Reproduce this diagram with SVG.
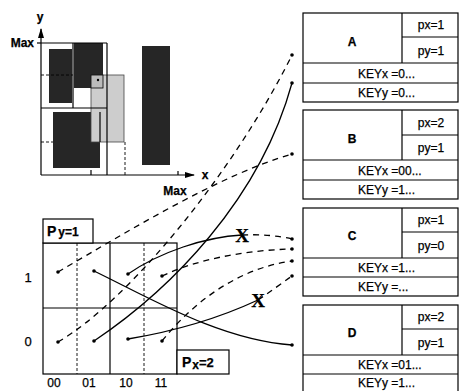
<svg xmlns="http://www.w3.org/2000/svg" width="460" height="391" viewBox="0 0 460 391">
<defs>
<marker id="ah" markerWidth="10" markerHeight="8" refX="9" refY="4" orient="auto" markerUnits="userSpaceOnUse">
<path d="M0,1 L10,4 L0,7 Z" fill="#000"/>
</marker>
</defs>
<style>
text{font-family:"Liberation Sans",Arial,sans-serif;fill:#000;stroke:#000;stroke-width:0.25}
.lbl{font-size:12px}
.big{font-size:13px}
.box{fill:#fff;stroke:#000;stroke-width:1.2}
.ln{fill:none;stroke:#000;stroke-width:1.2}
.dk{fill:#262626}
.lt{fill:#cdcdcd;stroke:#444;stroke-width:0.8}
.sol{fill:none;stroke:#000;stroke-width:1.3}
.dsh{fill:none;stroke:#000;stroke-width:1.3;stroke-dasharray:6 5}
.thin{fill:none;stroke:#000;stroke-width:0.9;stroke-dasharray:3 2}
.dot{fill:#000}
.xm{font-family:"Liberation Serif",serif;font-weight:bold;font-size:19px}
</style>

<g id="chart">
<rect class="dk" x="49" y="49" width="23" height="54"/>
<rect class="dk" x="74" y="43" width="29" height="45"/>
<rect class="dk" x="53" y="112" width="47" height="56"/>
<rect class="dk" x="142" y="46" width="28" height="119"/>
<rect class="lt" x="91" y="75" width="33" height="67"/>
<rect x="91" y="75" width="12" height="13" fill="#bbb" stroke="#000" stroke-width="0.8"/>
<circle cx="98" cy="80" r="1.2" fill="#000"/>
<line class="ln" x1="41" y1="43" x2="107" y2="43"/>
<line class="ln" x1="107" y1="43" x2="107" y2="175"/>
<line class="ln" x1="41" y1="108" x2="107" y2="108"/>
<line class="ln" x1="73" y1="43" x2="73" y2="108"/>
<line class="ln" x1="100" y1="112" x2="100" y2="142" stroke-width="0.8"/>
<line class="thin" x1="41" y1="75" x2="73" y2="75"/>
<line class="thin" x1="41" y1="142" x2="53" y2="142"/>
<line class="thin" x1="125" y1="142" x2="125" y2="175"/>
<line class="ln" x1="91" y1="170" x2="91" y2="175"/>
<line class="ln" x1="178" y1="171" x2="178" y2="175"/>
<line class="ln" x1="41" y1="175" x2="41" y2="29" marker-end="url(#ah)"/>
<line class="ln" x1="41" y1="175" x2="194" y2="175" marker-end="url(#ah)"/>
<line class="ln" x1="37" y1="43" x2="41" y2="43"/>
<text class="lbl" x="40" y="21" text-anchor="middle" font-weight="bold">y</text>
<text class="lbl" x="34" y="47" text-anchor="end" font-weight="bold">Max</text>
<text class="lbl" x="205" y="179" text-anchor="middle" font-weight="bold">x</text>
<text class="lbl" x="175" y="195" text-anchor="middle" font-weight="bold">Max</text>
</g>

<g id="grid">
<rect class="ln" x="43" y="243" width="134" height="131"/>
<line class="thin" x1="77" y1="243" x2="77" y2="374" stroke-dasharray="6 1.5"/>
<line class="ln" x1="110" y1="243" x2="110" y2="374"/>
<line class="thin" x1="144" y1="243" x2="144" y2="374" stroke-dasharray="6 1.5"/>
<line class="ln" x1="43" y1="308" x2="177" y2="308"/>
<text class="big" x="28" y="282" text-anchor="middle">1</text>
<text class="big" x="28" y="346" text-anchor="middle">0</text>
<text class="lbl" x="54" y="387" text-anchor="middle">00</text>
<text class="lbl" x="89" y="387" text-anchor="middle">01</text>
<text class="lbl" x="126" y="387" text-anchor="middle">10</text>
<text class="lbl" x="161" y="387" text-anchor="middle">11</text>
</g>

<g id="py-label">
<rect class="box" x="43" y="219" width="50" height="24"/>
<text x="47" y="236" font-size="14" font-weight="bold">P<tspan font-size="12" dx="2">y=1</tspan></text>
</g>

<g id="px-label">
<rect class="box" x="177" y="350" width="52" height="24"/>
<text x="182" y="367" font-size="14" font-weight="bold">P<tspan font-size="12" dx="1" dy="2">x</tspan><tspan font-size="13" dy="-2">=2</tspan></text>
</g>

<g id="node-A">
<rect class="box" x="303" y="13" width="155" height="89"/>
<line class="ln" x1="402" y1="13" x2="402" y2="63"/>
<line class="ln" x1="402" y1="37" x2="458" y2="37"/>
<line class="ln" x1="303" y1="63" x2="458" y2="63"/>
<line class="ln" x1="303" y1="83" x2="458" y2="83"/>
<text class="lbl" x="352" y="46" text-anchor="middle" font-weight="bold">A</text>
<text class="lbl" x="431" y="29" text-anchor="middle">px=1</text>
<text class="lbl" x="431" y="55" text-anchor="middle">py=1</text>
<text class="lbl" x="358" y="78">KEYx =0...</text>
<text class="lbl" x="358" y="97">KEYy =0...</text>
</g>

<g id="node-B">
<rect class="box" x="303" y="110" width="155" height="89"/>
<line class="ln" x1="402" y1="110" x2="402" y2="160"/>
<line class="ln" x1="402" y1="135" x2="458" y2="135"/>
<line class="ln" x1="303" y1="160" x2="458" y2="160"/>
<line class="ln" x1="303" y1="180" x2="458" y2="180"/>
<text class="lbl" x="352" y="143" text-anchor="middle" font-weight="bold">B</text>
<text class="lbl" x="431" y="127" text-anchor="middle">px=2</text>
<text class="lbl" x="431" y="152" text-anchor="middle">py=1</text>
<text class="lbl" x="358" y="175">KEYx =00...</text>
<text class="lbl" x="358" y="194">KEYy =1...</text>
</g>

<g id="node-C">
<rect class="box" x="303" y="208" width="155" height="88"/>
<line class="ln" x1="402" y1="208" x2="402" y2="258"/>
<line class="ln" x1="402" y1="232" x2="458" y2="232"/>
<line class="ln" x1="303" y1="258" x2="458" y2="258"/>
<line class="ln" x1="303" y1="277" x2="458" y2="277"/>
<text class="lbl" x="352" y="240" text-anchor="middle" font-weight="bold">C</text>
<text class="lbl" x="431" y="224" text-anchor="middle">px=1</text>
<text class="lbl" x="431" y="250" text-anchor="middle">py=0</text>
<text class="lbl" x="358" y="272">KEYx =1...</text>
<text class="lbl" x="358" y="291">KEYy =...</text>
</g>

<g id="node-D">
<rect class="box" x="303" y="305" width="155" height="90"/>
<line class="ln" x1="402" y1="305" x2="402" y2="355"/>
<line class="ln" x1="402" y1="329" x2="458" y2="329"/>
<line class="ln" x1="303" y1="355" x2="458" y2="355"/>
<line class="ln" x1="303" y1="374" x2="458" y2="374"/>
<text class="lbl" x="352" y="337" text-anchor="middle" font-weight="bold">D</text>
<text class="lbl" x="431" y="321" text-anchor="middle">px=2</text>
<text class="lbl" x="431" y="347" text-anchor="middle">py=1</text>
<text class="lbl" x="358" y="369">KEYx =01...</text>
<text class="lbl" x="358" y="387">KEYy =1...</text>
</g>

<g id="connectors">
<path class="dsh" d="M58,272 C130,230 220,175 292,154"/>
<path class="dsh" d="M58,342 C130,300 235,170 292,55"/>
<path class="sol" d="M94,341 C170,290 260,200 292,83"/>
<path class="sol" d="M128,274 C160,252 205,237 242,235"/>
<path class="dsh" d="M242,235 C262,234 280,236 292,239"/>
<path class="dsh" d="M162,276 C200,258 250,250 292,249"/>
<path class="dsh" d="M162,341 C195,300 240,268 292,261"/>
<path class="sol" d="M128,339 C170,332 215,320 258,300"/>
<path class="dsh" d="M258,300 C270,292 282,283 292,276"/>
<path class="sol" d="M94,271 C150,298 220,340 292,345"/>
<circle class="dot" cx="58" cy="272" r="1.8"/>
<circle class="dot" cx="94" cy="271" r="1.8"/>
<circle class="dot" cx="128" cy="274" r="1.8"/>
<circle class="dot" cx="162" cy="276" r="1.8"/>
<circle class="dot" cx="58" cy="342" r="1.8"/>
<circle class="dot" cx="94" cy="341" r="1.8"/>
<circle class="dot" cx="128" cy="339" r="1.8"/>
<circle class="dot" cx="162" cy="341" r="1.8"/>
<circle class="dot" cx="292" cy="55" r="1.8"/>
<circle class="dot" cx="292" cy="83" r="1.8"/>
<circle class="dot" cx="292" cy="154" r="1.8"/>
<circle class="dot" cx="292" cy="239" r="1.8"/>
<circle class="dot" cx="292" cy="249" r="1.8"/>
<circle class="dot" cx="292" cy="261" r="1.8"/>
<circle class="dot" cx="292" cy="276" r="1.8"/>
<circle class="dot" cx="292" cy="345" r="1.8"/>
<text class="xm" x="242" y="242" text-anchor="middle">X</text>
<text class="xm" x="258" y="307" text-anchor="middle">X</text>
</g>
</svg>
